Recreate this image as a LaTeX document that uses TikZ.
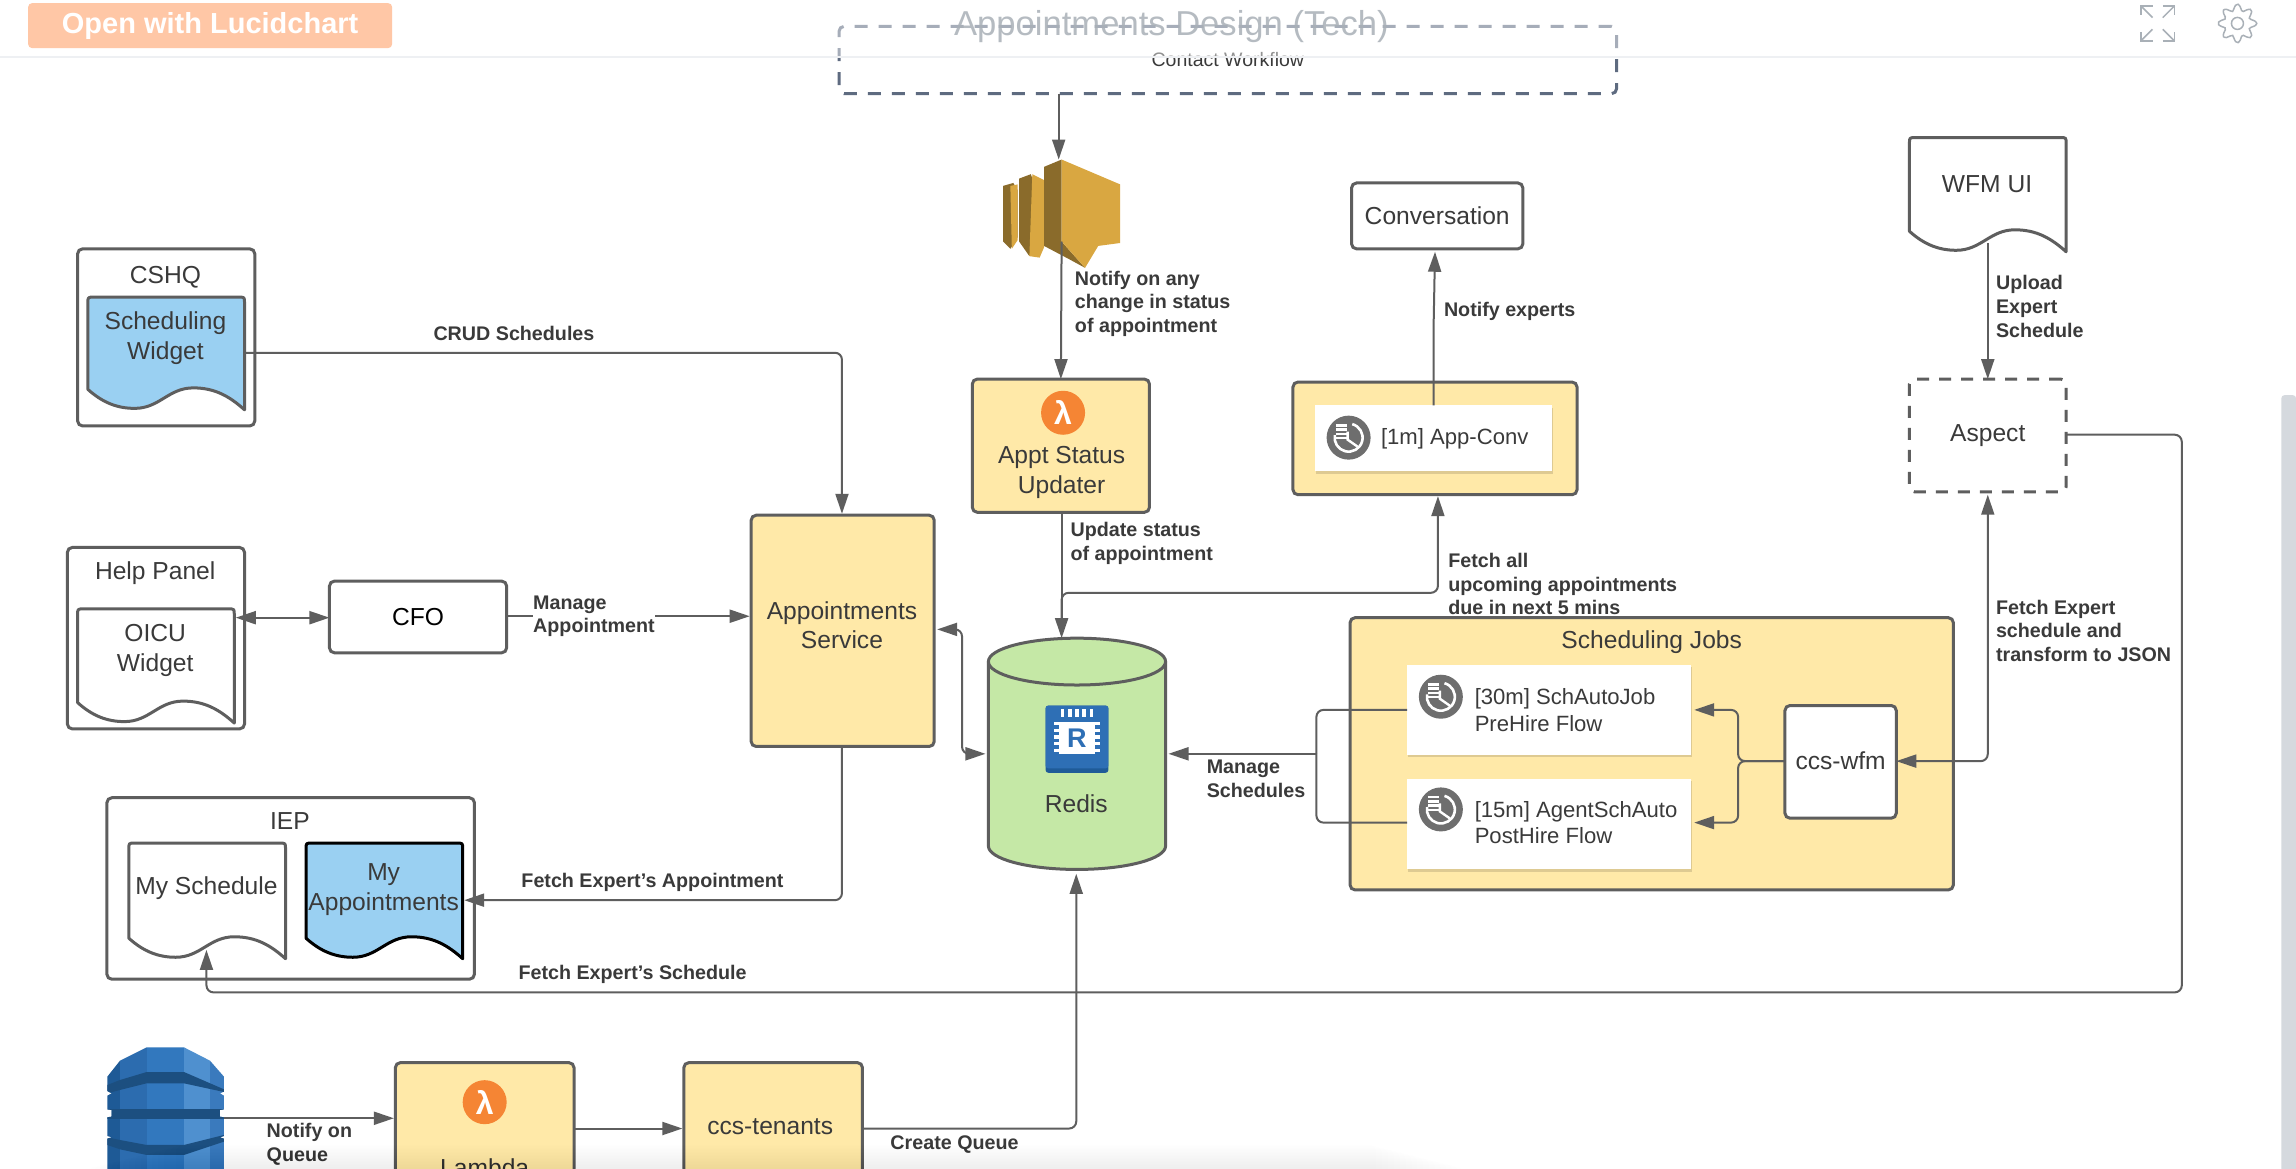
\documentclass[tikz,border=0pt]{standalone}
\usepackage{fontspec}
\setmainfont{Liberation Sans}
\usetikzlibrary{arrows.meta,calc,shapes.geometric}
\definecolor{linec}{HTML}{5E5E5E}
\definecolor{txtc}{HTML}{3A3A3A}
\definecolor{yel}{HTML}{FFE9A8}
\definecolor{blu}{HTML}{9AD0F2}
\definecolor{grn}{HTML}{C5E8A6}
\definecolor{dashc}{HTML}{5E6B80}
\definecolor{orng}{HTML}{F58534}
\definecolor{peach}{HTML}{FFC7A6}
\definecolor{clockc}{HTML}{6E6E6E}
\definecolor{uic}{HTML}{A9B0B7}
\definecolor{kindark}{HTML}{8A6B2B}
\definecolor{kinlight}{HTML}{D9A741}
\definecolor{redblue}{HTML}{2E6FB5}
\definecolor{reddark}{HTML}{1F5B98}
\definecolor{dyna}{HTML}{1E5A96}
\definecolor{dynb}{HTML}{2C6CAF}
\definecolor{dync}{HTML}{3278BE}
\definecolor{dynd}{HTML}{4F90CF}
\definecolor{dyne}{HTML}{3A7ABD}
\definecolor{dynband}{HTML}{1C4F80}
\newcommand{\fsz}[2]{\fontsize{#1}{#2}\selectfont}
\tikzset{
  boxy/.style={draw=linec,line width=3pt,rounded corners=5pt,inner sep=0pt,outer sep=0pt,text=txtc,align=center,font=\fsz{24.6}{30}},
  whitebox/.style={boxy,fill=white},
  yelbox/.style={boxy,fill=yel},
  dashbox/.style={boxy,fill=white,dashed,dash pattern=on 12pt off 10pt},
  cardbox/.style={draw=none,fill=white,inner sep=0pt,outer sep=0pt},
  blab/.style={font=\fsz{19.7}{23.8}\bfseries,text=txtc,align=left,anchor=west,inner sep=0pt},
  plab/.style={font=\fsz{24.6}{30},text=txtc,align=center,inner sep=0pt},
  cardlab/.style={font=\fsz{22.1}{26.5},text=txtc,align=left,anchor=west,inner sep=0pt},
  conn/.style={draw=linec,line width=2pt,rounded corners=7pt,-{Triangle[length=20pt,width=13pt]}},
  bconn/.style={draw=linec,line width=2pt,rounded corners=7pt,{Triangle[length=20pt,width=13pt]}-{Triangle[length=20pt,width=13pt]}},
  pconn/.style={draw=linec,line width=2pt,rounded corners=7pt},
  docpath/.style={draw=linec,line width=3pt,line join=round}
}
\newcommand{\rbox}[7]{\node[#1,minimum width={(#4-#2)*1.4643pt},minimum height={(#5-#3)*1.4637pt},at={({(#2+#4)/2},{(#3+#5)/2})}] (#6) {#7};}
\newcommand{\card}[5]{%
  \fill[black,opacity=.13] ({#1+.8},{#2+1.5}) rectangle ({#3+.8},{#4+1.5});
  \rbox{cardbox}{#1}{#2}{#3}{#4}{#5}{}}
\newcommand{\docshape}[7]{%
  \draw[docpath,#6] (#1,{#4-14}) -- (#1,{#2+4}) .. controls (#1,#2) and (#1,#2) .. ({#1+4},#2) -- ({#3-4},#2) .. controls (#3,#2) and (#3,#2) .. (#3,{#2+4}) -- (#3,#4)
   .. controls ({#3-10},{#4-9}) and ({#3-20},{#4-15}) .. ({#3-35},{#4-15})
   .. controls ({#3-52},{#4-15}) and ({#3-58},{#4-1}) .. ({#1+32},{#4-1})
   .. controls ({#1+20},{#4-1}) and ({#1+10},{#4-5}) .. (#1,{#4-14}) -- cycle;
  \node[plab,inner sep=0pt,minimum width={(#3-#1)*1.4643pt},minimum height={(#4-#2)*1.4637pt},at={({(#1+#3)/2},{(#2+#4)/2})}] (#5) {};#7}
\newcommand{\clockicon}[2]{%
  \fill[clockc] (#1,#2) circle[radius=22pt];
  \draw[white,line width=2.6pt] ($(#1,#2)+(75:14pt)$) arc[start angle=75,end angle=-190,radius=14pt];
  \draw[white,line width=2.4pt] ($(#1,#2)+(-1pt,6pt)$) -- ($(#1,#2)+(-1pt,-2pt)$) -- ($(#1,#2)+(9pt,-9pt)$);
  \foreach \q in {0,1,2,3}{\fill[white] ($(#1,#2)+(-13pt,{11pt-\q*4.2pt})$) rectangle +(11pt,2.5pt);}
}
\newcommand{\lamicon}[2]{%
  \fill[orng] (#1,#2) circle[radius=22pt];
  \node[inner sep=0pt,text=white,font=\fsz{32}{32}\bfseries] (lam#1) at (#1,#2) {λ};
}
\begin{document}
\begin{tikzpicture}[x=1.4643pt,y=-1.4637pt]
\path[use as bounding box] (0,0) rectangle (1568,798);
\clip (0,0) rectangle (1568,798);
\fill[white] (0,0) rectangle (1568,798);

% contact workflow
\rbox{boxy,draw=dashc,dashed,dash pattern=on 13pt off 11pt,font=\fsz{19.5}{24}}{573}{18}{1104}{64}{contact}{Contact Workflow}

% kinesis
\fill[kindark] (685,127) -- (692,125) -- (695,130) -- (695,162) -- (690,170) -- (685,165) -- cycle;
\fill[kinlight] (690,127) -- (695,126) -- (695,164) -- (691,170) -- cycle;
\fill[kindark] (696,122) -- (704,119) -- (705,122) -- (705,170) -- (703,175) -- (696,165) -- cycle;
\fill[kinlight] (705,119) -- (713,123) -- (713,169) -- (710,176) -- (703,175) -- cycle;
\fill[kindark] (713,114) -- (725,109) -- (725,165) -- (741,183) -- (730,177) -- (713,168) -- cycle;
\fill[kinlight] (725,109) -- (765,126) -- (765,166) -- (750,168) -- (741,183) -- (725,165) -- cycle;
\node[inner sep=0pt,minimum width=117pt,minimum height=110pt] (kin) at (725,146) {};

% Appt status updater
\rbox{yelbox}{664}{259}{785}{350}{appt}{}
\lamicon{726}{282}
\node[plab] (apptlab) at (725,322.5) {Appt Status\\Updater};

% Conversation
\rbox{whitebox}{923}{125}{1040}{170}{conv}{Conversation}
% App-Conv
\rbox{yelbox}{883}{261}{1077}{338}{appconv}{}
\card{898}{277}{1060}{322}{appcard}
\clockicon{921}{299}
\node[cardlab] (applab) at (943,300) {[1m] App-Conv};

% WFM
\docshape{1304}{94}{1411}{172}{wfm}{fill=white}{\node[plab] (wfmlab) at (1357,126) {WFM UI};}
\rbox{dashbox}{1304}{259}{1411}{336}{aspect}{\raisebox{-1.5pt}{Aspect}}

% Scheduling jobs
\rbox{yelbox}{922}{422}{1334}{608}{jobs}{}
\node[plab] (jobslab) at (1128,439) {Scheduling Jobs};
\card{961}{454}{1155}{516}{job1}
\card{961}{532}{1155}{594}{job2}
\clockicon{984}{476}
\clockicon{984}{553}
\node[cardlab] (job1lab) at (1007,485) {[30m] SchAutoJob\\PreHire Flow};
\node[cardlab] (job2lab) at (1007,562) {[15m] AgentSchAuto\\PostHire Flow};
\rbox{whitebox}{1219}{482}{1295}{559}{wfmjob}{\raisebox{3pt}{ccs-wfm}}

% Redis
\fill[grn,draw=linec,line width=3pt] (675,452) -- (675,578) arc[start angle=180,end angle=360,x radius=60.5,y radius=-16] -- (796,452) arc[start angle=0,end angle=180,x radius=60.5,y radius=-16] -- cycle;
\draw[draw=linec,line width=3pt] (675,452) arc[start angle=180,end angle=360,x radius=60.5,y radius=-16];
\node[inner sep=0pt,minimum width=177pt,minimum height=231pt] (redis) at (735.5,515) {};
\fill[reddark,rounded corners=3pt] (714,482) rectangle (757,528);
\fill[redblue,rounded corners=3pt] (714,482) rectangle (757,525);
\fill[white] (723.5,493.5) rectangle (747.5,515);
\foreach \q in {0,1,2,3,4}{
  \fill[white] ({724.5+\q*4.9},490) rectangle +(3.6pt,8pt);
  \fill[white] ({724.5+\q*4.9},513) rectangle +(3.6pt,8pt);
  \fill[white] (720,{495.5+\q*4.6}) rectangle +(8pt,3.4pt);
  \fill[white] (743,{495.5+\q*4.6}) rectangle +(12pt,3.4pt);
}
\node[inner sep=0pt,font=\fsz{27}{27}\bfseries,text=redblue] (redisR) at (735.5,504.5) {R};
\node[plab] (redislab) at (735,549) {Redis};

% Appointments service
\rbox{yelbox}{513}{352}{638}{510}{svc}{}
\node[plab,font=\fsz{24.6}{28.5}] (svclab) at (575,427) {Appointments\\Service};

% CSHQ
\rbox{whitebox}{53}{170}{174}{291}{cshq}{}
\node[plab] (cshqlab) at (113,189.5) {CSHQ};
\docshape{60}{203}{167}{280}{schw}{fill=blu}{\node[plab] (schwlab) at (113,231) {Scheduling\\Widget};}

% Help panel
\rbox{whitebox}{46}{374}{167}{498}{help}{}
\node[plab] (helplab) at (106,391.5) {Help Panel};
\docshape{53}{416}{160}{494}{oicu}{fill=white}{\node[plab] (oiculab) at (106,444.5) {OICU\\Widget};}

% CFO
\rbox{whitebox}{225}{397}{346}{446}{cfo}{\color{black}CFO}

% IEP
\rbox{whitebox}{73}{545}{324}{669}{iep}{}
\node[plab] (ieplab) at (198,561) {IEP};
\docshape{88}{576}{195}{655}{mysch}{fill=white}{\node[plab] (myschlab) at (141,606.5) {My Schedule};}
\docshape{209}{576}{316}{655}{myapp}{fill=blu,draw=black}{\node[plab] (myapplab) at (262,607.5) {My\\Appointments};}

% Dynamo (reference pixels / 3 grid)
\begin{scope}[x=0.3333pt,y=-0.3333pt,shift={(60pt,-1030pt)}]
\clip (260,52) -- (372,52) -- (450,92) -- (492,140) -- (492,185) -- (480,190) -- (492,197) -- (492,238) -- (480,240) -- (480,260) -- (492,262) -- (492,318) -- (480,322) -- (492,326) -- (492,440) -- (142,440) -- (142,326) -- (155,322) -- (142,318) -- (142,262) -- (155,260) -- (155,240) -- (142,238) -- (142,197) -- (155,190) -- (142,183) -- (142,140) -- (180,92) -- cycle;
\fill[dyna] (142,52) rectangle (180,440);
\fill[dynb] (180,52) rectangle (260,440);
\fill[dync] (260,52) rectangle (372,440);
\fill[dynd] (372,52) rectangle (450,440);
\fill[dyne] (450,52) rectangle (492,440);
\fill[dynband] (142,165) -- (180,150) -- (260,126) -- (372,126) -- (492,178) -- (492,186) -- (372,160) -- (260,160) -- (180,180) -- (142,190) -- cycle;
\fill[dynband] (142,238) rectangle (492,266);
\fill[dynband] (142,322) -- (180,330) -- (260,345) -- (372,345) -- (492,315) -- (492,335) -- (372,375) -- (260,375) -- (180,358) -- (142,345) -- cycle;
\end{scope}
\node[inner sep=0pt,minimum width=117pt,minimum height=120pt] (dyn) at (113,756) {};

% Lambda & tenants (run off the page)
\rbox{yelbox}{270}{726}{392}{830}{lamb}{}
\lamicon{331}{753}
\node[plab] (lamblab) at (331,798) {Lambda};
\rbox{yelbox}{467}{726}{589}{830}{ten}{}
\node[plab] (tenlab) at (526,770) {ccs-tenants};

% connector coordinates
\coordinate (a1) at (723,64);
\coordinate (a2) at (723,109);
\coordinate (b1) at (725,165);
\coordinate (c1) at (167,241);
\coordinate (d1) at (979,277);
\coordinate (d2) at (980,172);
\coordinate (e1) at (1357.5,166);
\coordinate (f1) at (1411,297);
\coordinate (f2) at (141,649);
\coordinate (g1) at (1187,520);
\coordinate (g2) at (1157,485);
\coordinate (g3) at (1157,562);
\coordinate (h1) at (961,485);
\coordinate (h2) at (961,562);
\coordinate (h3) at (899,515);
\coordinate (h4) at (798,515);
\coordinate (i1) at (1295,520);
\coordinate (i2) at (1357.5,338);
\coordinate (j1) at (725,350);
\coordinate (j2) at (725,436);
\coordinate (k1) at (725,428);
\coordinate (k2) at (982,339);
\coordinate (l1) at (575,510);
\coordinate (l2) at (317,615);
\coordinate (m1) at (640,430);
\coordinate (m2) at (657,515);
\coordinate (m3) at (673,515);
\coordinate (n1) at (161,422);
\coordinate (n2) at (225,422);
\coordinate (o1) at (346,421);
\coordinate (o2) at (512,421);
\coordinate (p1) at (153,764);
\coordinate (p2) at (269,764);
\coordinate (q1) at (392,771);
\coordinate (q2) at (466,771);
\coordinate (r1) at (589,771);
\coordinate (r2) at (735,597);

% connectors
\draw[conn] (a1) -- (a2);
\draw[conn] (b1) -- (appt.north);
\draw[conn] (c1) -| (575,351);
\draw[conn] (d1) -- (979,225) -- (d2);
\draw[conn] (e1) -- (aspect.north);
\draw[conn] (f1) -| (1490,678) -| (f2);
\draw[conn] (wfmjob.west |- g1) -- (g1) |- (g2);
\draw[conn] (wfmjob.west |- g1) -- (g1) |- (g3);
\draw[pconn] (h1) -| (h3);
\draw[pconn] (h2) -| (h3);
\draw[conn] (h3) -- (h4);
\draw[bconn] (i1) -| (i2);
\draw[conn] (j1) -- (j2);
\draw[conn] (k1) -- (725,405) -- (982,405) -- (k2);
\draw[conn] (l1) |- (l2);
\draw[bconn] (m1) -| (m2) -- (m3);
\draw[bconn] (n1) -- (n2);
\draw[conn] (o1) -- (o2);
\draw[conn] (p1) -- (p2);
\draw[conn] (q1) -- (q2);
\draw[conn] (r1) -| (r2);

% labels
\node[blab] (t1) at (734,207.5) {Notify on any\\change in status\\of appointment};
\node[blab,anchor=center] (t2) at (351,228) {CRUD Schedules};
\node[blab] (t3) at (986,213) {Notify experts};
\node[blab] (t4) at (1363,209.5) {Upload\\Expert\\Schedule};
\node[blab] (t5) at (731,371.5) {Update status\\of appointment};
\node[blab] (t6) at (989,399) {Fetch all\\upcoming appointments\\due in next 5 mins};
\node[blab] (t7) at (1363,431) {Fetch Expert\\schedule and\\transform to JSON};
\node[blab] (t8) at (824,532) {Manage\\Schedules};
\node[blab,fill=white] (t9) at (364,421) {Manage\\Appointment};
\node[blab] (t10) at (356,603) {Fetch Expert's Appointment};
\node[blab] (t11) at (354,666) {Fetch Expert's Schedule};
\node[blab] (t12) at (182,782) {Notify on\\Queue};
\node[blab] (t13) at (608,782) {Create Queue};

% top bar
\fill[white,opacity=.45] (0,0) rectangle (1568,39);
\draw[color={rgb,255:red,238;green,240;blue,243},line width=1.5pt] (0,39) -- (1568,39);
\node[fill=peach,rounded corners=4pt,minimum width=364pt,minimum height=45pt,inner sep=0pt,text=white,font=\fsz{29}{30}\bfseries] (btn) at (143.5,17.5) {Open with Lucidchart};
\node[inner sep=0pt,text=uic,opacity=.85,font=\fsz{34.6}{36}] (title) at (800,18) {Appointments Design (Tech)};
% expand icon
\begin{scope}[draw=uic,line width=1.5pt]
\draw (1462,10) -- (1462,4) -- (1470,4);
\draw (1462,4) -- (1470,12);
\draw (1477,4) -- (1485,4) -- (1485,10);
\draw (1485,4) -- (1477,12);
\draw (1462,22) -- (1462,28) -- (1470,28);
\draw (1462,28) -- (1470,20);
\draw (1477,28) -- (1485,28) -- (1485,22);
\draw (1485,28) -- (1477,20);
\end{scope}
% gear icon
\draw[uic,line width=1.5pt] plot[smooth cycle,domain=0:352,samples=45] ({1528+(11+2.2*cos(8*\x))*cos(\x)},{16+(11+2.2*cos(8*\x))*sin(\x)});
\draw[uic,line width=1.5pt] (1528,16) circle[radius=6pt];
% scrollbar
\fill[color={rgb,255:red,213;green,217;blue,222},rounded corners=3pt] (1558,270) rectangle (1568,810);
% bottom fade
\foreach \q in {0,...,15}{\fill[black,opacity=.005,rounded corners=8pt] ({120-\q*4},{782+\q}) rectangle ({940+\q*4},804);}
\end{tikzpicture}
\end{document}
